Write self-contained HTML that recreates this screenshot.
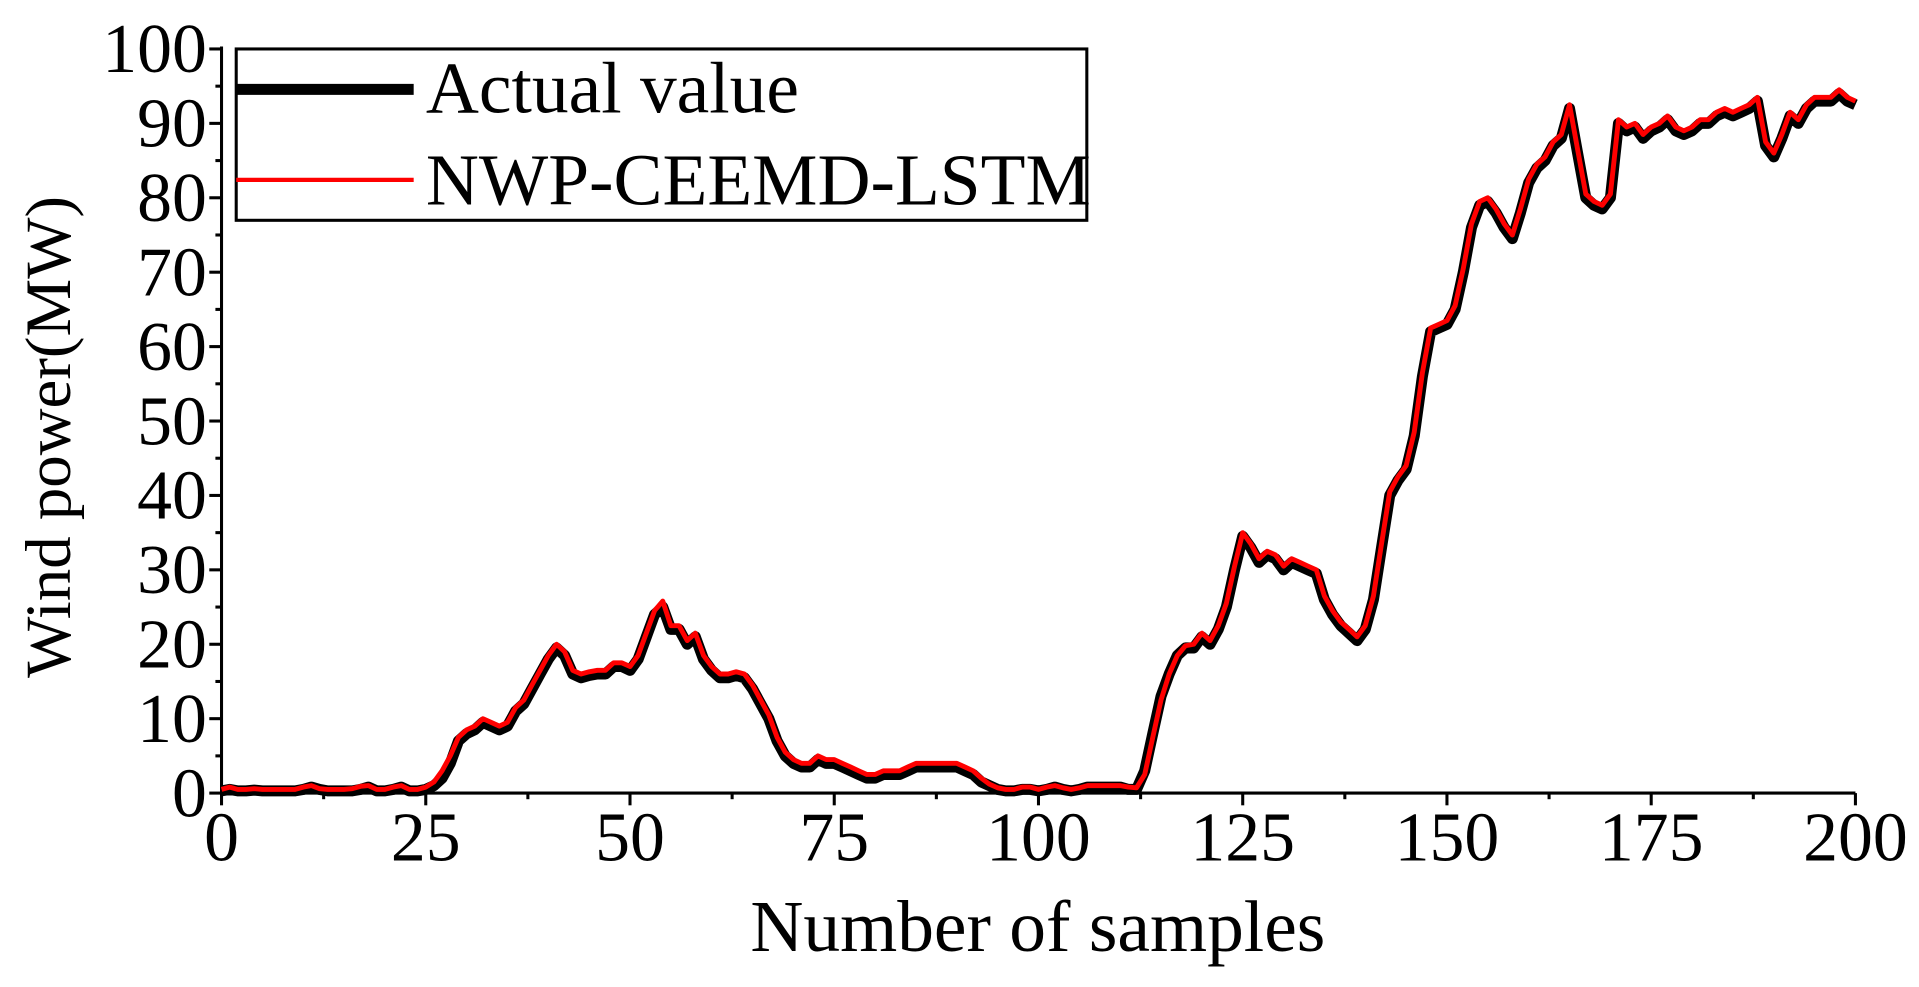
<!DOCTYPE html>
<html><head><meta charset="utf-8"><style>
body{margin:0;background:#fff}
svg text{font-family:"Liberation Serif",serif;fill:#000}
</style></head><body>
<svg id="chart" width="1919" height="982" viewBox="0 0 1919 982" xmlns="http://www.w3.org/2000/svg">
<g transform="scale(1.2239)">
<g id="axes"></g>
<g id="series"></g>
<g>
<rect x="193" y="40" width="695" height="140" fill="#fff" stroke="#000" stroke-width="2.5"/>
<line x1="193" y1="73" x2="338" y2="73" stroke="#000" stroke-width="9"/>
<text x="348" y="92" font-size="60">Actual value</text>
<line x1="193" y1="147" x2="338" y2="147" stroke="#f00" stroke-width="3.5"/>
<text x="348" y="167" font-size="60">NWP-CEEMD-LSTM</text>
</g>
<text x="848" y="777" font-size="60" text-anchor="middle">Number of samples</text>
<text transform="translate(57,357) rotate(-90)" font-size="53" text-anchor="middle">Wind power(MW)</text>
</g>
</svg>
<script>
const xTicks=[0,25,50,75,100,125,150,175,200];
const yTicks=[0,10,20,30,40,50,60,70,80,90,100];
const actual=[0.3,0.5,0.3,0.3,0.4,0.3,0.3,0.3,0.3,0.3,0.5,0.8,0.5,0.3,0.3,0.3,0.3,0.5,0.8,0.3,0.3,0.5,0.8,0.3,0.3,0.5,1,2,4,7,8,8.5,9.5,9,8.5,9,11,12,14,16,18,19.5,18.5,16,15.5,15.8,16,16,17,17,16.5,18,21,24,25,22,22,20,21,18,16.5,15.5,15.5,15.8,15.5,14,12,10,7,5,4,3.5,3.5,4.5,4,4,3.5,3,2.5,2,2,2.5,2.5,2.5,3,3.5,3.5,3.5,3.5,3.5,3.5,3,2.5,1.5,1,0.5,0.3,0.3,0.5,0.5,0.3,0.5,0.8,0.5,0.3,0.5,0.8,0.8,0.8,0.8,0.8,0.5,0.5,3,8,13,16,18.5,19.5,19.5,21,20,22,25,30,34.5,33,31,32,31.5,30,31,30.5,30,29.5,26,24,22.5,21.5,20.5,22,26,33,40,42,43.5,48,56,62,62.5,63,65,70,76,79,79.5,78,76,74.5,78,82,84,85,87,88,92,86,80,79,78.5,80,90,89,89.5,88,89,89.5,90.5,89,88.5,89,90,90,91,91.5,91,91.5,92,93,87,85.5,88,91,90,92,93,93,93,94,93,92.5];
const predicted=[0.5,0.8,0.5,0.5,0.6,0.5,0.5,0.5,0.5,0.5,0.8,1,0.6,0.5,0.5,0.5,0.6,0.9,1,0.5,0.5,0.8,1,0.5,0.5,0.8,1.5,3,5,7.5,8.5,9,10,9.5,9,9.5,11.5,12.5,14.5,16.5,18.5,20,19,16.5,16,16.3,16.5,16.5,17.5,17.5,17,18.5,21.5,24.5,25.8,22.5,22.5,20.5,21.5,18.5,17,16,16,16.3,16,14.5,12.5,10.5,7.5,5.5,4.5,4,4,5,4.5,4.5,4,3.5,3,2.5,2.5,3,3,3,3.5,4,4,4,4,4,4,3.5,3,2,1.2,0.7,0.5,0.5,0.8,0.8,0.5,0.8,1,0.7,0.5,0.7,1,1,1,1,1,0.8,0.7,2.5,7.5,12.5,16,18.5,19.8,20,21.5,20.5,22.5,25.5,30.5,35,33.5,31.5,32.5,32,30.5,31.5,31,30.5,30,26.5,24.5,23,22,21,22.5,26.5,33.5,40.5,42.5,44,48.5,56.5,62.5,63,63.5,65.5,70.5,76.5,79.5,80,78.5,76.5,75,78.5,82.5,84.5,85.5,87.5,88.5,92.5,86.5,80.5,79.5,79,80.5,90.5,89.5,90,88.5,89.5,90,91,89.5,89,89.5,90.5,90.5,91.5,92,91.5,92,92.5,93.5,87.5,86,88.5,91.5,90.5,92.5,93.5,93.5,93.5,94.5,93.5,93];
const NS="http://www.w3.org/2000/svg";
const X0=181,X1=1516,Y0=648,Y1=40;
function xs(v){return X0+(v-0)/(200-0)*(X1-X0);}
function ys(v){return Y0-(v-0)/(100-0)*(Y0-Y1);}
function mk(tag,attrs,parent){const e=document.createElementNS(NS,tag);for(const k in attrs)e.setAttribute(k,attrs[k]);parent.appendChild(e);return e;}
const axes=document.getElementById('axes');
let e=mk('line',{x1:X0,y1:Y0,x2:X0,y2:Y1-2,stroke:'#000','stroke-width':2.5},axes);


e=mk('line',{x1:X0-1,y1:Y0,x2:X1,y2:Y0,stroke:'#000','stroke-width':2.5},axes);


yTicks.forEach((t,i)=>{
  const y=ys(t);
  let l=mk('line',{x1:X0-10,y1:y,x2:X0,y2:y,stroke:'#000','stroke-width':2.5},axes);
  
  
  if(i<yTicks.length-1){const m=ys(t+5);let ml=mk('line',{x1:X0-5,y1:m,x2:X0,y2:m,stroke:'#000','stroke-width':2.5},axes);
  
  }
  const tx=mk('text',{x:X0-12,y:y+19,'font-size':57,'text-anchor':'end'},axes);tx.textContent=t;
  
  
});
xTicks.forEach((t,i)=>{
  const x=xs(t);
  let l=mk('line',{x1:x,y1:Y0,x2:x,y2:Y0+10,stroke:'#000','stroke-width':2.5},axes);
  
  
  if(i<xTicks.length-1){const m=xs(t+12.5);let ml=mk('line',{x1:m,y1:Y0,x2:m,y2:Y0+5,stroke:'#000','stroke-width':2.5},axes);
  
  }
  const tx=mk('text',{x:x,y:Y0+55,'font-size':57,'text-anchor':'middle'},axes);tx.textContent=t;
  
  
});
const ser=document.getElementById('series');
function path(arr){return arr.map((v,i)=>(i?'L':'M')+xs(i).toFixed(1)+','+ys(v).toFixed(1)).join('');}
let p=mk('path',{d:path(actual),fill:'none',stroke:'#000','stroke-width':9,'stroke-linejoin':'round'},ser);


p=mk('path',{d:path(predicted),fill:'none',stroke:'#f00','stroke-width':4,'stroke-linejoin':'round'},ser);


</script>
</body></html>
